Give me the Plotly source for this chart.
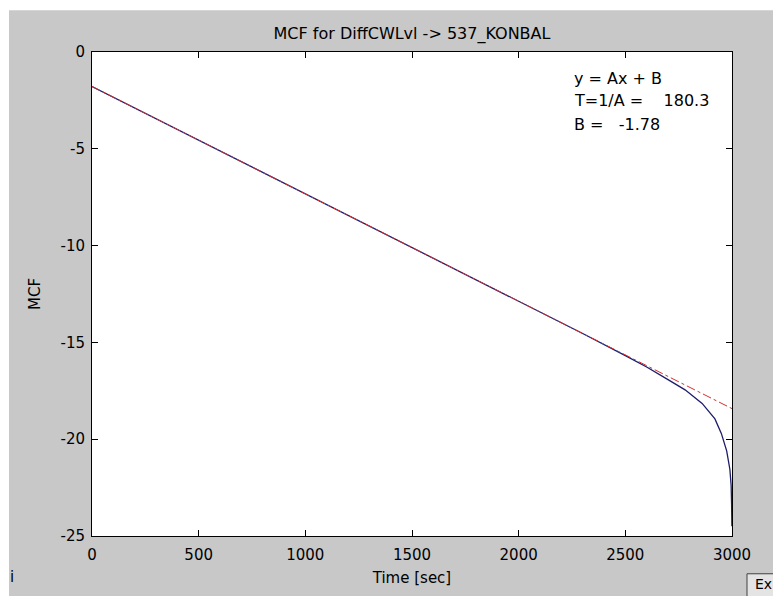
import plotly.graph_objects as go

# ---- data ----
time_curve = [0, 500, 1000, 1500, 2000, 2300, 2500, 2600, 2700, 2780, 2860,
              2920, 2950, 2975, 2990, 2996, 2998, 2999.5]
mcf_curve = [-1.78, -4.55, -7.33, -10.10, -12.87, -14.54, -15.68, -16.27,
             -16.92, -17.45, -18.15, -18.95, -19.70, -20.60, -21.55, -22.4,
             -23.3, -24.5]
time_fit = [0, 3000]
mcf_fit = [-1.78, -18.42]

x_ticks = [0, 500, 1000, 1500, 2000, 2500, 3000]
y_ticks = [0, -5, -10, -15, -20, -25]

title_text = "MCF for DiffCWLvl -> 537_KONBAL"
fit_lines = ["y = Ax + B",
             "T=1/A =\u00a0\u00a0\u00a0\u00a0180.3",
             "B =\u00a0\u00a0\u00a0-1.78"]

W, H = 773, 596
L, R, T, B = 92, 732, 52, 539
FONT = "DejaVu Sans"
GRAY = "#c8c8c8"

fig = go.Figure()
fig.add_trace(go.Scatter(x=time_curve, y=mcf_curve, mode="lines",
                         line=dict(color="#1c1c6a", width=1.3),
                         showlegend=False, hoverinfo="skip"))
fig.add_trace(go.Scatter(x=time_fit, y=mcf_fit, mode="lines",
                         line=dict(color="#d03030", width=1, dash="dashdot"),
                         showlegend=False, hoverinfo="skip"))

pw, ph = R - L, B - T
def px(x):
    return (x - L) / pw
def py(y):
    return (B - y) / ph

axis_common = dict(showline=True, linecolor="black", linewidth=1, mirror="ticks",
                   ticks="inside", ticklen=6, tickcolor="black", showgrid=False,
                   zeroline=False, tickfont=dict(family=FONT, size=15, color="black"))

fig.update_xaxes(range=[0, 3000], tickvals=x_ticks, ticktext=[str(v) for v in x_ticks],
                 title=dict(text="Time [sec]", font=dict(family=FONT, size=15, color="black"),
                            standoff=9),
                 ticklabelstandoff=5, **axis_common)
fig.update_yaxes(range=[-25, 0], tickvals=y_ticks, ticktext=[str(v) for v in y_ticks],
                 title=dict(text="MCF", font=dict(family=FONT, size=15, color="black"),
                            standoff=16),
                 ticklabelstandoff=3, **axis_common)

shapes = [
    # white strips at top and left of the figure window
    dict(type="rect", xref="paper", yref="paper", x0=px(-5), x1=px(W + 5), y0=py(10), y1=py(-5),
         fillcolor="white", line=dict(width=0), layer="above"),
    dict(type="rect", xref="paper", yref="paper", x0=px(-5), x1=px(9), y0=py(W), y1=py(-5),
         fillcolor="white", line=dict(width=0), layer="above"),
    # button at bottom-right
    dict(type="rect", xref="paper", yref="paper", x0=px(747), x1=px(W + 10), y0=py(W), y1=py(577),
         fillcolor="#e4e4e4", line=dict(color="#404040", width=1), layer="above"),
]

annotations = []
for txt, yc in zip(fit_lines, [79, 101, 125]):
    annotations.append(dict(text=txt, xref="paper", yref="paper", x=px(572), y=py(yc),
                            xanchor="left", yanchor="middle", showarrow=False,
                            font=dict(family=FONT, size=16, color="black")))
annotations.append(dict(text="Ex", xref="paper", yref="paper", x=px(753), y=py(587),
                        xanchor="left", yanchor="middle", showarrow=False,
                        font=dict(family=FONT, size=14, color="black")))
annotations.append(dict(text="i", xref="paper", yref="paper", x=px(8), y=py(580),
                        xanchor="left", yanchor="middle", showarrow=False,
                        font=dict(family=FONT, size=15, color="black")))

fig.update_layout(
    width=W, height=H,
    margin=dict(l=L, r=W - R, t=T, b=H - B, pad=0),
    paper_bgcolor=GRAY, plot_bgcolor="white",
    title=dict(text=title_text, x=(L + R) / 2 / W, xanchor="center",
               y=1 - 33 / H, yanchor="middle",
               font=dict(family=FONT, size=16, color="black")),
    shapes=shapes, annotations=annotations,
)

fig.write_html("out.html")
